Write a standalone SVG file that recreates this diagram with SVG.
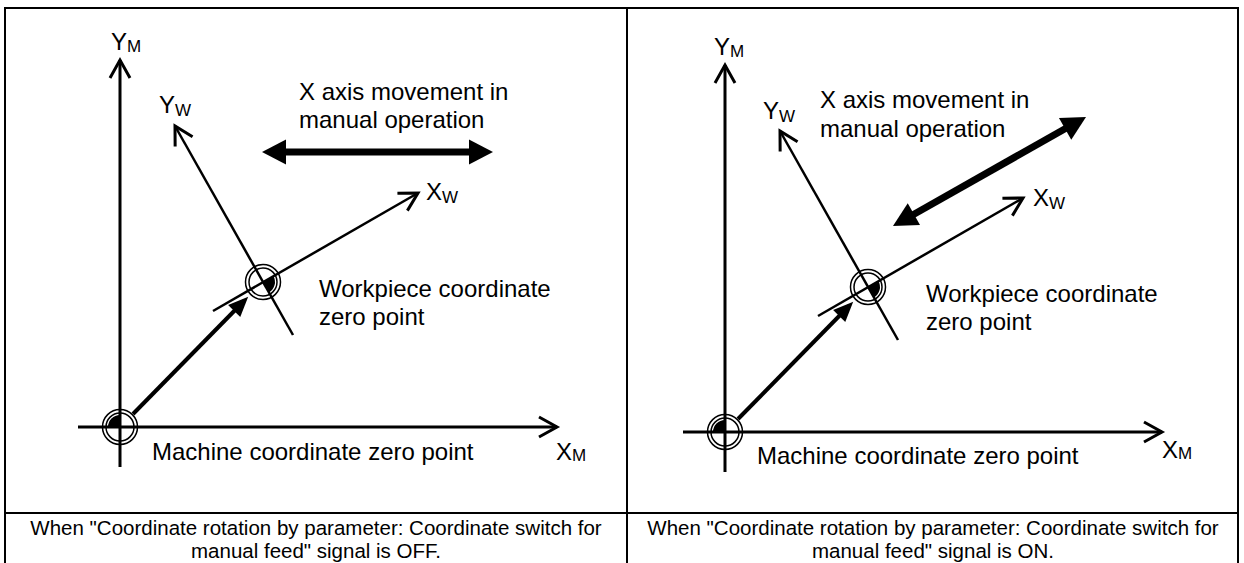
<svg xmlns="http://www.w3.org/2000/svg" width="1244" height="563" viewBox="0 0 1244 563">
<style>
.t{font-family:"Liberation Sans",Arial,sans-serif;font-size:24px;fill:#000}
.s{font-size:17px}
.cap{font-family:"Liberation Sans",Arial,sans-serif;font-size:20.5px;fill:#000;text-anchor:middle}
.frame{stroke:#000;stroke-width:2;fill:none}
.axm{stroke:#000;stroke-width:3;fill:none;marker-end:url(#open)}
.axw{stroke:#000;stroke-width:2.5;fill:none;marker-end:url(#open)}
.shift{stroke:#000;stroke-width:4;fill:none;marker-end:url(#tri)}
.move{stroke:#000;stroke-width:7;fill:none;marker-start:url(#big);marker-end:url(#big)}
.ring{stroke:#000;stroke-width:1.5;fill:none}
.fill{fill:#000;stroke:none}
</style>
<defs>
<marker id="open" markerUnits="userSpaceOnUse" orient="auto" refX="0" refY="0" markerWidth="30" markerHeight="30" overflow="visible">
<path d="M-18,-10 L0,0 L-18,10" fill="none" stroke="#000" stroke-width="3"/>
</marker>
<marker id="tri" markerUnits="userSpaceOnUse" orient="auto" refX="-6" refY="0" markerWidth="30" markerHeight="30" overflow="visible">
<path d="M0,0 L-20,-8.5 L-20,8.5 Z" fill="#000"/>
</marker>
<marker id="big" markerUnits="userSpaceOnUse" orient="auto-start-reverse" refX="-20" refY="0" markerWidth="30" markerHeight="30" overflow="visible">
<path d="M0,0 L-24,-12.5 L-24,12.5 Z" fill="#000"/>
</marker>
</defs>

<g id="frame">
<path class="frame" d="M5,563 L5,8 L1238,8 L1238,563 M627,8 L627,563 M5,513 L1238,513"/>
</g>

<g id="connectors">
<!-- left panel -->
<line class="axm" x1="120" y1="467" x2="120" y2="60"/>
<line class="axm" x1="78" y1="427" x2="557" y2="427"/>
<line class="axw" x1="293" y1="335" x2="175" y2="126"/>
<line class="axw" x1="213" y1="311" x2="418" y2="193"/>
<line class="shift" x1="133" y1="414" x2="244" y2="301"/>
<line class="move" x1="282" y1="152" x2="473" y2="152"/>
<!-- right panel -->
<line class="axm" x1="725" y1="472" x2="725" y2="65"/>
<line class="axm" x1="683" y1="432" x2="1162" y2="432"/>
<line class="axw" x1="898" y1="340" x2="780" y2="131"/>
<line class="axw" x1="818" y1="316" x2="1023" y2="198"/>
<line class="shift" x1="738" y1="419" x2="849" y2="306"/>
<line class="move" x1="910.4" y1="216.2" x2="1068.6" y2="126.8"/>
</g>

<g id="machine-zero-left">
<circle class="ring" cx="120" cy="427" r="17.5"/>
<circle class="ring" cx="120" cy="427" r="14"/>
<path class="fill" d="M120,427 L108,427 A12,12 0 0 1 120,415 Z"/>
</g>
<g id="work-zero-left">
<circle class="ring" cx="263" cy="282" r="17.5"/>
<circle class="ring" cx="263" cy="282" r="14"/>
<path class="fill" d="M263,282 L273.39,276 A12,12 0 0 1 269,292.39 Z"/>
</g>
<g id="machine-zero-right">
<circle class="ring" cx="725" cy="432" r="17.5"/>
<circle class="ring" cx="725" cy="432" r="14"/>
<path class="fill" d="M725,432 L713,432 A12,12 0 0 1 725,420 Z"/>
</g>
<g id="work-zero-right">
<circle class="ring" cx="868" cy="287" r="17.5"/>
<circle class="ring" cx="868" cy="287" r="14"/>
<path class="fill" d="M868,287 L878.39,281 A12,12 0 0 1 874,297.39 Z"/>
</g>

<g id="labels-left">
<text class="t" x="111" y="50">Y<tspan class="s" dy="2">M</tspan></text>
<text class="t" x="159" y="113">Y<tspan class="s" dy="3">W</tspan></text>
<text class="t" x="426" y="200">X<tspan class="s" dy="3">W</tspan></text>
<text class="t" x="556" y="460">X<tspan class="s" dy="1">M</tspan></text>
<text class="t" x="299" y="100">X axis movement in</text>
<text class="t" x="299" y="128">manual operation</text>
<text class="t" x="319" y="297">Workpiece coordinate</text>
<text class="t" x="319" y="325">zero point</text>
<text class="t" x="152" y="460">Machine coordinate zero point</text>
</g>
<g id="labels-right">
<text class="t" x="714" y="55">Y<tspan class="s" dy="2">M</tspan></text>
<text class="t" x="763" y="119">Y<tspan class="s" dy="3">W</tspan></text>
<text class="t" x="1033" y="206">X<tspan class="s" dy="3">W</tspan></text>
<text class="t" x="1162" y="458">X<tspan class="s" dy="1">M</tspan></text>
<text class="t" x="820" y="108">X axis movement in</text>
<text class="t" x="820" y="137">manual operation</text>
<text class="t" x="926" y="302">Workpiece coordinate</text>
<text class="t" x="926" y="330">zero point</text>
<text class="t" x="757" y="464">Machine coordinate zero point</text>
</g>
<g id="captions">
<text class="cap" x="316" y="535">When "Coordinate rotation by parameter: Coordinate switch for</text>
<text class="cap" x="316" y="558">manual feed" signal is OFF.</text>
<text class="cap" x="933" y="535">When "Coordinate rotation by parameter: Coordinate switch for</text>
<text class="cap" x="933" y="558">manual feed" signal is ON.</text>
</g>
</svg>
